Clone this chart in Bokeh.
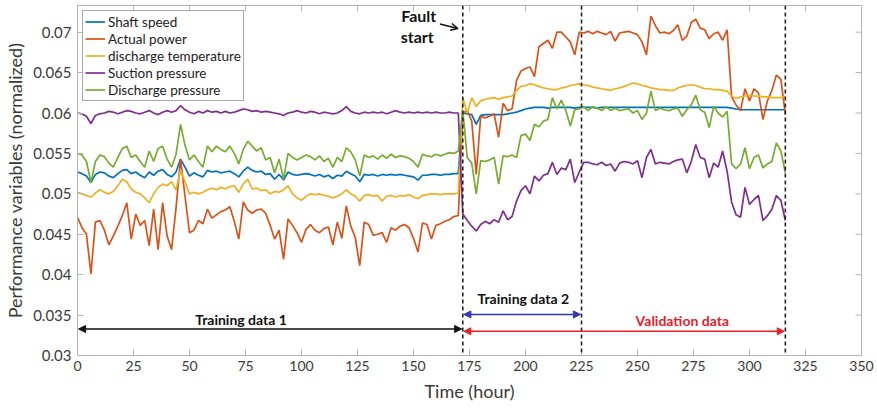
from bokeh.plotting import figure
from bokeh.models import (Span, Arrow, NormalHead, OpenHead, Label,
                          FixedTicker, Range1d)
from bokeh.embed import file_html
from bokeh.resources import INLINE

# ---------------- data ----------------
hours = list(range(0, 317, 2))

shaft_speed = [
    0.0527, 0.0525, 0.0522, 0.0514, 0.0524, 0.0527, 0.0526, 0.0522, 0.0520, 0.0525,
    0.0529, 0.0530, 0.0525, 0.0527, 0.0523, 0.0520, 0.0527, 0.0523, 0.0528, 0.0530,
    0.0524, 0.0521, 0.0527, 0.0543, 0.0533, 0.0522, 0.0526, 0.0523, 0.0521, 0.0529,
    0.0527, 0.0528, 0.0526, 0.0527, 0.0528, 0.0525, 0.0521, 0.0528, 0.0533, 0.0529,
    0.0527, 0.0528, 0.0524, 0.0525, 0.0518, 0.0524, 0.0517, 0.0527, 0.0524, 0.0523,
    0.0524, 0.0525, 0.0524, 0.0522, 0.0524, 0.0521, 0.0523, 0.0519, 0.0523, 0.0522,
    0.0528, 0.0525, 0.0522, 0.0515, 0.0524, 0.0523, 0.0524, 0.0522, 0.0524, 0.0523,
    0.0524, 0.0523, 0.0524, 0.0523, 0.0522, 0.0521, 0.0517, 0.0523, 0.0523, 0.0524,
    0.0524, 0.0523, 0.0524, 0.0524, 0.0525, 0.0525, 0.0600, 0.0599, 0.0598, 0.0586,
    0.0597, 0.0598, 0.0598, 0.0598, 0.0598, 0.0598, 0.0599, 0.0600, 0.0601, 0.0603,
    0.0605, 0.0606, 0.0607, 0.0607, 0.0607, 0.0606, 0.0607, 0.0607, 0.0607, 0.0607,
    0.0607, 0.0606, 0.0607, 0.0607, 0.0607, 0.0607, 0.0606, 0.0607, 0.0607, 0.0607,
    0.0607, 0.0607, 0.0607, 0.0607, 0.0607, 0.0607, 0.0607, 0.0607, 0.0607, 0.0607,
    0.0607, 0.0607, 0.0607, 0.0607, 0.0607, 0.0607, 0.0607, 0.0607, 0.0607, 0.0607,
    0.0607, 0.0607, 0.0607, 0.0607, 0.0607, 0.0607, 0.0606, 0.0605, 0.0604, 0.0604,
    0.0604, 0.0604, 0.0604, 0.0604, 0.0604, 0.0604, 0.0604, 0.0604, 0.0604,
]

actual_power = [
    0.0471, 0.0458, 0.0450, 0.0401, 0.0465, 0.0467, 0.0455, 0.0437, 0.0448, 0.0460,
    0.0473, 0.0489, 0.0444, 0.0475, 0.0461, 0.0467, 0.0436, 0.0481, 0.0431, 0.0489,
    0.0448, 0.0431, 0.0483, 0.0543, 0.0497, 0.0452, 0.0455, 0.0467, 0.0463, 0.0481,
    0.0470, 0.0474, 0.0478, 0.0480, 0.0484, 0.0466, 0.0444, 0.0490, 0.0480, 0.0476,
    0.0480, 0.0481, 0.0476, 0.0461, 0.0444, 0.0455, 0.0419, 0.0469, 0.0461, 0.0452,
    0.0440, 0.0456, 0.0462, 0.0455, 0.0452, 0.0457, 0.0459, 0.0437, 0.0465, 0.0445,
    0.0485, 0.0460, 0.0446, 0.0411, 0.0465, 0.0462, 0.0449, 0.0450, 0.0452, 0.0440,
    0.0458, 0.0455, 0.0460, 0.0462, 0.0458, 0.0445, 0.0428, 0.0464, 0.0462, 0.0444,
    0.0461, 0.0463, 0.0466, 0.0468, 0.0472, 0.0473, 0.0600, 0.0603, 0.0590, 0.0524,
    0.0596, 0.0594, 0.0596, 0.0599, 0.0570, 0.0612, 0.0603, 0.0605, 0.0640, 0.0652,
    0.0655, 0.0657, 0.0645, 0.0682, 0.0686, 0.0690, 0.0680, 0.0700, 0.0700, 0.0694,
    0.0688, 0.0672, 0.0700, 0.0699, 0.0701, 0.0698, 0.0701, 0.0699, 0.0697, 0.0701,
    0.0689, 0.0699, 0.0700, 0.0701, 0.0699, 0.0697, 0.0688, 0.0672, 0.0720, 0.0708,
    0.0699, 0.0700, 0.0698, 0.0702, 0.0709, 0.0690, 0.0695, 0.0712, 0.0716, 0.0705,
    0.0703, 0.0692, 0.0698, 0.0700, 0.0690, 0.0703, 0.0620, 0.0610, 0.0603, 0.0630,
    0.0615, 0.0630, 0.0625, 0.0592, 0.0615, 0.0628, 0.0647, 0.0642, 0.0598,
]

discharge_temperature = [
    0.0502, 0.0500, 0.0498, 0.0496, 0.0501, 0.0505, 0.0502, 0.0500, 0.0503, 0.0510,
    0.0518, 0.0515, 0.0506, 0.0502, 0.0500, 0.0495, 0.0489, 0.0500, 0.0508, 0.0512,
    0.0510, 0.0515, 0.0505, 0.0529, 0.0515, 0.0500, 0.0502, 0.0500, 0.0502, 0.0505,
    0.0507, 0.0505, 0.0508, 0.0506, 0.0509, 0.0510, 0.0502, 0.0512, 0.0518, 0.0506,
    0.0507, 0.0504, 0.0505, 0.0500, 0.0503, 0.0502, 0.0505, 0.0510, 0.0500, 0.0495,
    0.0492, 0.0497, 0.0500, 0.0499, 0.0500, 0.0498, 0.0497, 0.0495, 0.0497, 0.0500,
    0.0505, 0.0500, 0.0497, 0.0491, 0.0498, 0.0499, 0.0497, 0.0498, 0.0491, 0.0497,
    0.0498, 0.0496, 0.0498, 0.0497, 0.0499, 0.0496, 0.0494, 0.0498, 0.0499, 0.0500,
    0.0500, 0.0499, 0.0500, 0.0500, 0.0500, 0.0501, 0.0619, 0.0600, 0.0619, 0.0608,
    0.0615, 0.0617, 0.0618, 0.0619, 0.0617, 0.0619, 0.0620, 0.0621, 0.0628, 0.0633,
    0.0634, 0.0636, 0.0635, 0.0633, 0.0631, 0.0630, 0.0629, 0.0629, 0.0631, 0.0632,
    0.0634, 0.0635, 0.0636, 0.0635, 0.0634, 0.0632, 0.0631, 0.0630, 0.0629, 0.0628,
    0.0630, 0.0631, 0.0633, 0.0635, 0.0637, 0.0636, 0.0634, 0.0633, 0.0631, 0.0630,
    0.0629, 0.0629, 0.0628, 0.0628, 0.0631, 0.0633, 0.0634, 0.0635, 0.0634, 0.0632,
    0.0630, 0.0630, 0.0629, 0.0629, 0.0628, 0.0627, 0.0621, 0.0618, 0.0620, 0.0621,
    0.0622, 0.0621, 0.0621, 0.0620, 0.0620, 0.0619, 0.0619, 0.0619, 0.0620,
]

suction_pressure = [
    0.0600, 0.0599, 0.0596, 0.0587, 0.0597, 0.0599, 0.0600, 0.0602, 0.0601, 0.0599,
    0.0601, 0.0603, 0.0602, 0.0600, 0.0599, 0.0601, 0.0603, 0.0600, 0.0598, 0.0601,
    0.0603, 0.0601, 0.0603, 0.0609, 0.0604, 0.0601, 0.0599, 0.0602, 0.0600, 0.0603,
    0.0601, 0.0602, 0.0600, 0.0602, 0.0600, 0.0601, 0.0603, 0.0605, 0.0604, 0.0602,
    0.0603, 0.0601, 0.0602, 0.0601, 0.0600, 0.0599, 0.0597, 0.0600, 0.0601, 0.0603,
    0.0601, 0.0600, 0.0602, 0.0601, 0.0599, 0.0601, 0.0600, 0.0599, 0.0600, 0.0603,
    0.0608, 0.0602, 0.0600, 0.0599, 0.0601, 0.0600, 0.0601, 0.0600, 0.0601, 0.0599,
    0.0601, 0.0603, 0.0601, 0.0600, 0.0601, 0.0600, 0.0601, 0.0600, 0.0601, 0.0600,
    0.0601, 0.0600, 0.0600, 0.0601, 0.0600, 0.0600, 0.0475, 0.0467, 0.0460, 0.0454,
    0.0462, 0.0466, 0.0463, 0.0468, 0.0465, 0.0479, 0.0468, 0.0472, 0.0491, 0.0504,
    0.0510, 0.0500, 0.0522, 0.0516, 0.0523, 0.0525, 0.0539, 0.0524, 0.0532, 0.0530,
    0.0543, 0.0514, 0.0527, 0.0539, 0.0539, 0.0537, 0.0536, 0.0539, 0.0535, 0.0537,
    0.0528, 0.0538, 0.0540, 0.0539, 0.0537, 0.0541, 0.0520, 0.0545, 0.0555, 0.0537,
    0.0539, 0.0538, 0.0537, 0.0540, 0.0542, 0.0543, 0.0526, 0.0540, 0.0561, 0.0545,
    0.0543, 0.0520, 0.0538, 0.0533, 0.0553, 0.0528, 0.0490, 0.0474, 0.0471, 0.0508,
    0.0487, 0.0493, 0.0498, 0.0467, 0.0473, 0.0481, 0.0498, 0.0492, 0.0467,
]

discharge_pressure = [
    0.0550, 0.0548, 0.0540, 0.0514, 0.0540, 0.0548, 0.0546, 0.0538, 0.0533, 0.0545,
    0.0556, 0.0559, 0.0545, 0.0548, 0.0540, 0.0533, 0.0553, 0.0540, 0.0556, 0.0559,
    0.0543, 0.0533, 0.0549, 0.0586, 0.0560, 0.0542, 0.0548, 0.0540, 0.0533, 0.0559,
    0.0552, 0.0559, 0.0555, 0.0552, 0.0559, 0.0550, 0.0537, 0.0555, 0.0565, 0.0559,
    0.0553, 0.0557, 0.0542, 0.0545, 0.0526, 0.0543, 0.0518, 0.0550, 0.0545, 0.0542,
    0.0545, 0.0548, 0.0546, 0.0542, 0.0547, 0.0540, 0.0544, 0.0533, 0.0545, 0.0540,
    0.0557, 0.0552, 0.0542, 0.0522, 0.0548, 0.0545, 0.0547, 0.0543, 0.0548, 0.0544,
    0.0549, 0.0545, 0.0547, 0.0546, 0.0544, 0.0540, 0.0533, 0.0549, 0.0547, 0.0546,
    0.0549, 0.0547, 0.0549, 0.0551, 0.0550, 0.0553, 0.0603, 0.0545, 0.0538, 0.0500,
    0.0541, 0.0540, 0.0542, 0.0545, 0.0512, 0.0547, 0.0546, 0.0548, 0.0545, 0.0572,
    0.0574, 0.0566, 0.0586, 0.0583, 0.0590, 0.0592, 0.0619, 0.0605, 0.0616, 0.0603,
    0.0584, 0.0604, 0.0605, 0.0608, 0.0603, 0.0608, 0.0606, 0.0603, 0.0608, 0.0603,
    0.0606, 0.0603, 0.0604, 0.0605, 0.0600, 0.0603, 0.0592, 0.0600, 0.0627, 0.0603,
    0.0606, 0.0604, 0.0603, 0.0605, 0.0606, 0.0596, 0.0604, 0.0610, 0.0622, 0.0604,
    0.0601, 0.0582, 0.0608, 0.0600, 0.0595, 0.0602, 0.0537, 0.0531, 0.0537, 0.0557,
    0.0531, 0.0545, 0.0548, 0.0532, 0.0537, 0.0540, 0.0563, 0.0553, 0.0526,
]

series_names = ["Shaft speed", "Actual power", "discharge temperature",
                "Suction pressure", "Discharge pressure"]
x_ticks = [0, 25, 50, 75, 100, 125, 150, 175, 200, 225, 250, 275, 300, 325, 350]
y_ticks = [0.03, 0.035, 0.04, 0.045, 0.05, 0.055, 0.06, 0.065, 0.07]
y_tick_labels = ["0.03", "0.035", "0.04", "0.045", "0.05", "0.055", "0.06", "0.065", "0.07"]
phase_bounds = [172, 225, 316]

# ---------------- figure ----------------
FONT = "Lato"
GRAY = "#b4b4b4"
TXT = "#3a3a3a"
colors = ["#0072BD", "#D95319", "#EDB120", "#7E2F8E", "#77AC30"]
X0, X1, Y0, Y1 = 0, 350, 0.03, 0.0733

p = figure(width=877, height=409, output_backend="svg", toolbar_location=None,
           x_range=Range1d(X0, X1), y_range=Range1d(Y0, Y1),
           min_border_left=77, min_border_right=16, min_border_top=5,
           min_border_bottom=54)
p.background_fill_color = "white"
p.border_fill_color = "white"
p.outline_line_color = GRAY
p.xgrid.visible = False
p.ygrid.visible = False

all_series = [shaft_speed, actual_power, discharge_temperature,
              suction_pressure, discharge_pressure]
for name, vals, col in zip(series_names, all_series, colors):
    p.line(hours, vals, line_color=col, line_width=1.7, legend_label=name)

# axes
p.xaxis.ticker = FixedTicker(ticks=x_ticks)
p.yaxis.ticker = FixedTicker(ticks=y_ticks)
p.yaxis.major_label_overrides = dict(zip(y_ticks, y_tick_labels))
for ax in (p.xaxis[0], p.yaxis[0]):
    ax.axis_line_color = GRAY
    ax.major_tick_line_color = GRAY
    ax.major_tick_in = 6
    ax.major_tick_out = 0
    ax.minor_tick_line_color = None
    ax.major_label_text_font = FONT
    ax.major_label_text_color = TXT
    ax.axis_label_text_font = FONT
    ax.axis_label_text_font_style = "normal"
    ax.axis_label_text_color = TXT
    ax.axis_label_text_font_size = "18px"
p.xaxis.major_label_text_font_size = "14px"
p.yaxis.major_label_text_font_size = "15px"
p.xaxis.axis_label = "Time (hour)"
p.yaxis.axis_label = "Performance variables (normalized)"
p.xaxis.axis_label_standoff = 6
p.yaxis.major_label_standoff = 6
p.yaxis.axis_label_standoff = 4

# inward box ticks on the top and right edges (from the same tick lists)
tick_dy = (Y1 - Y0) * 6 / 350.0
tick_dx = (X1 - X0) * 6 / 784.0
p.segment(x0=x_ticks, y0=[Y1] * len(x_ticks), x1=x_ticks,
          y1=[Y1 - tick_dy] * len(x_ticks), line_color=GRAY, line_width=1)
p.segment(x0=[X1] * len(y_ticks), y0=y_ticks, x1=[X1 - tick_dx] * len(y_ticks),
          y1=y_ticks, line_color=GRAY, line_width=1)

# phase boundaries
for b in phase_bounds:
    p.add_layout(Span(location=b, dimension="height", line_color="#222222",
                      line_dash="4 3", line_width=1.6))

# phase arrows
def dbl_arrow(x0, x1, y, col):
    p.add_layout(Arrow(start=NormalHead(size=7, fill_color=col, line_color=col),
                       end=NormalHead(size=7, fill_color=col, line_color=col),
                       x_start=x0, y_start=y, x_end=x1, y_end=y,
                       line_color=col, line_width=1.5))

dbl_arrow(0.5, 171.5, 0.03328, "#111111")
dbl_arrow(172.5, 224.5, 0.03508, "#3535b5")
dbl_arrow(172.5, 315.5, 0.03300, "#e8202a")

def label(x, y, text, col, size="14px", align="center"):
    p.add_layout(Label(x=x, y=y, text=text, text_color=col, text_font=FONT,
                       text_font_style="bold", text_font_size=size,
                       text_align=align, text_baseline="middle"))

label(73, 0.0345, "Training data 1", "#111111")
label(199, 0.0370, "Training data 2", "#111111")
label(270, 0.0343, "Validation data", "#e8202a")
label(144.5, 0.0721, "Fault", "#111111", size="16px", align="left")
label(144.3, 0.0695, "start", "#111111", size="16px", align="left")

p.add_layout(Arrow(end=OpenHead(size=7, line_color="#111111", line_width=1.5),
                   x_start=161.8, y_start=0.0710, x_end=169.8, y_end=0.07045,
                   line_color="#111111", line_width=1.5))

# legend
lg = p.legend[0]
lg.location = "top_left"
lg.margin = 5
lg.padding = 2
lg.spacing = 0
lg.label_height = 17
lg.glyph_height = 17
lg.glyph_width = 20
lg.label_standoff = 3
lg.label_text_font = FONT
lg.label_text_font_size = "13.5px"
lg.label_text_color = "#222222"
lg.border_line_color = "#555555"
lg.border_line_width = 1
lg.background_fill_alpha = 1.0

open("out.html", "w").write(file_html(p, INLINE))
